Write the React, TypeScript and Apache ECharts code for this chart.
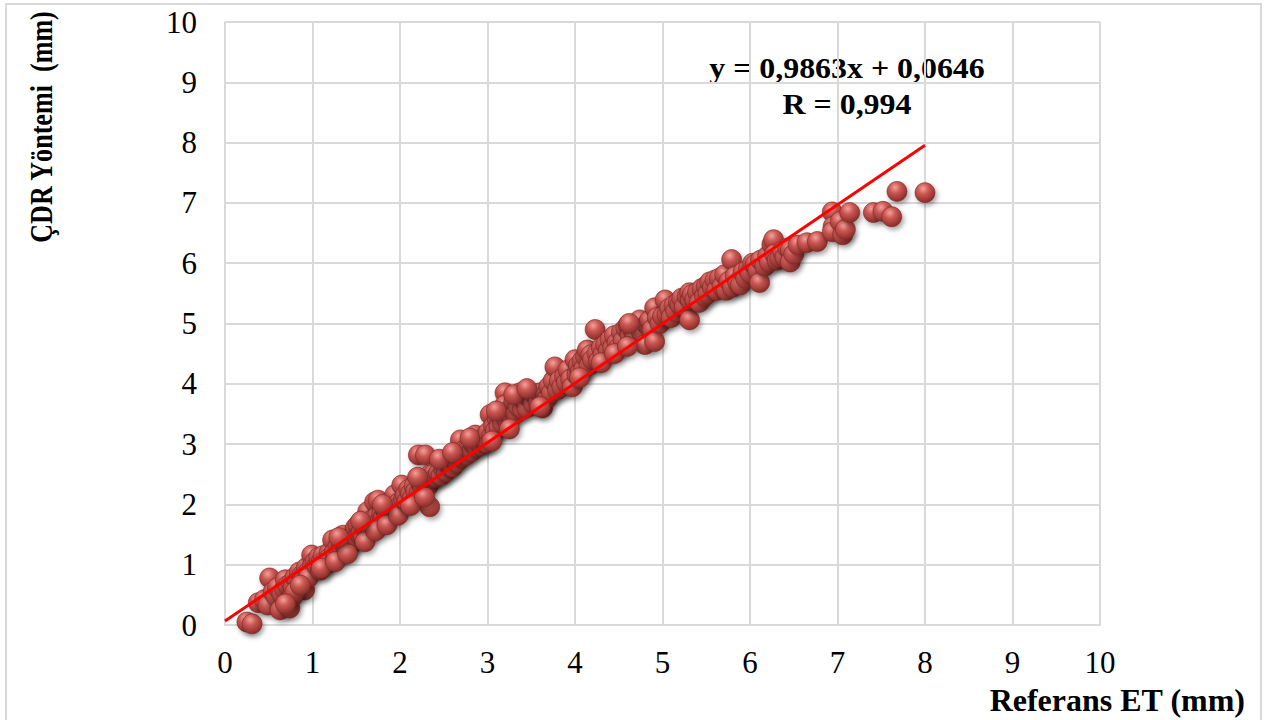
import React, { useEffect, useRef } from "react";
import * as echarts from "echarts";

const xTicks = [0, 1, 2, 3, 4, 5, 6, 7, 8, 9, 10];
const yTicks = [0, 1, 2, 3, 4, 5, 6, 7, 8, 9, 10];
const slope = 0.9863;
const intercept = 0.0646;
const trendX = [0, 8];
const equationText = "y = 0,9863x + 0,0646";
const rText = "R = 0,994";
const xTitle = "Referans ET (mm)";
const yTitle = "ÇDR Yöntemi  (mm)";

const points: number[][] = [
  [0.25, 0.05], [0.31, 0.02], [0.38, 0.37], [0.45, 0.42], [0.49, 0.33], [0.51, 0.78], [0.55, 0.55], [0.58, 0.48],
  [0.6, 0.62], [0.63, 0.25], [0.65, 0.52], [0.68, 0.6], [0.69, 0.75], [0.72, 0.66], [0.74, 0.28], [0.76, 0.7],
  [0.78, 0.62], [0.8, 0.79], [0.83, 0.74], [0.85, 0.88], [0.88, 0.83], [0.9, 0.82], [0.91, 0.58], [0.93, 0.95],
  [0.96, 0.9], [0.99, 1.16], [1.0, 0.98], [0.77, 0.46], [0.8, 0.55], [0.95, 0.78], [0.69, 0.35], [0.86, 0.66],
  [1.03, 1.05], [1.05, 0.98], [1.07, 1.12], [1.09, 0.91], [1.1, 1.05], [1.12, 1.15], [1.15, 1.08], [1.17, 1.02],
  [1.19, 1.2], [1.2, 1.12], [1.23, 1.41], [1.25, 1.2], [1.27, 1.15], [1.29, 1.3], [1.31, 1.22], [1.33, 1.28],
  [1.35, 1.49], [1.37, 1.33], [1.39, 1.25], [1.41, 1.38], [1.43, 1.45], [1.45, 1.35], [1.47, 1.5], [1.49, 1.61],
  [1.5, 1.42], [1.52, 1.66], [1.54, 1.5], [1.56, 1.55], [1.58, 1.48], [1.6, 1.62], [1.62, 1.58], [1.63, 1.88],
  [1.65, 1.66], [1.67, 1.6], [1.69, 1.75], [1.71, 2.04], [1.72, 1.7], [1.74, 1.8], [1.75, 2.07], [1.77, 1.72],
  [1.79, 1.85], [1.81, 1.78], [1.83, 1.92], [1.85, 1.82], [1.87, 1.98], [1.89, 1.86], [1.91, 2.05], [1.92, 1.9],
  [1.94, 2.16], [1.96, 1.95], [1.98, 2.02], [2.0, 1.98], [1.1, 0.94], [1.26, 1.05], [1.4, 1.18], [1.6, 1.38],
  [1.72, 1.56], [1.85, 1.66], [1.98, 1.82], [1.3, 1.45], [1.55, 1.72], [1.8, 2.0],
  [2.02, 2.32], [2.04, 2.08], [2.06, 2.15], [2.08, 2.05], [2.1, 2.25], [2.12, 2.18], [2.14, 2.1], [2.16, 2.3],
  [2.18, 2.22], [2.21, 2.82], [2.22, 2.2], [2.24, 2.35], [2.26, 2.28], [2.29, 2.82], [2.3, 2.4], [2.32, 2.3],
  [2.34, 1.96], [2.34, 2.49], [2.36, 2.42], [2.38, 2.5], [2.41, 2.45], [2.44, 2.52], [2.47, 2.48], [2.5, 2.58],
  [2.53, 2.55], [2.55, 2.68], [2.57, 2.66], [2.6, 2.62], [2.62, 2.75], [2.65, 2.7], [2.67, 2.85], [2.69, 3.07],
  [2.71, 2.78], [2.74, 2.9], [2.76, 2.82], [2.79, 2.95], [2.82, 2.88], [2.84, 3.0], [2.86, 3.15], [2.88, 2.95],
  [2.91, 3.05], [2.93, 2.98], [2.95, 3.1], [2.97, 3.07], [2.99, 3.02], [2.12, 1.98], [2.28, 2.12], [2.45, 2.75],
  [2.6, 2.86], [2.8, 3.1], [2.2, 2.45],
  [3.01, 3.2], [3.03, 3.49], [3.05, 3.15], [3.07, 3.3], [3.09, 3.22], [3.11, 3.42], [3.13, 3.28], [3.15, 3.55],
  [3.17, 3.35], [3.19, 3.62], [3.2, 3.85], [3.2, 3.65], [3.22, 3.4], [3.24, 3.55], [3.27, 3.45], [3.3, 3.7],
  [3.32, 3.5], [3.35, 3.62], [3.37, 3.85], [3.4, 3.58], [3.42, 3.72], [3.45, 3.6], [3.47, 3.78], [3.49, 3.85],
  [3.52, 3.68], [3.55, 3.8], [3.58, 3.7], [3.6, 3.85], [3.63, 3.6], [3.66, 3.82], [3.68, 3.75], [3.7, 3.95],
  [3.73, 3.85], [3.75, 4.05], [3.77, 4.28], [3.8, 3.9], [3.82, 4.05], [3.85, 3.95], [3.88, 4.12], [3.9, 4.02],
  [3.92, 4.23], [3.95, 4.08], [3.97, 3.95], [4.0, 4.4], [3.1, 3.55], [3.3, 3.82], [3.45, 3.92], [3.6, 3.62],
  [3.05, 3.05], [3.25, 3.25],
  [4.02, 4.15], [4.04, 4.3], [4.06, 4.2], [4.08, 4.38], [4.1, 4.25], [4.12, 4.45], [4.14, 4.56], [4.16, 4.3],
  [4.18, 4.48], [4.2, 4.4], [4.23, 4.9], [4.25, 4.5], [4.27, 4.38], [4.3, 4.6], [4.32, 4.48], [4.35, 4.65],
  [4.38, 4.55], [4.4, 4.73], [4.43, 4.6], [4.45, 4.8], [4.48, 4.68], [4.5, 4.6], [4.53, 4.85], [4.55, 4.72],
  [4.58, 4.92], [4.61, 4.98], [4.63, 4.8], [4.66, 4.9], [4.68, 4.75], [4.7, 5.0], [4.74, 5.06], [4.76, 4.85],
  [4.8, 4.65], [4.82, 4.98], [4.85, 5.05], [4.88, 4.9], [4.91, 5.26], [4.91, 4.7], [4.94, 5.1], [4.97, 5.0],
  [5.0, 5.12], [4.05, 4.1], [4.3, 4.35], [4.45, 4.5], [4.6, 4.62], [4.62, 5.0],
  [5.03, 5.39], [5.05, 5.15], [5.08, 5.25], [5.1, 5.1], [5.13, 5.3], [5.15, 5.2], [5.18, 5.35], [5.2, 5.31],
  [5.22, 5.42], [5.25, 5.28], [5.28, 5.45], [5.31, 5.06], [5.31, 5.51], [5.32, 5.38], [5.34, 5.48], [5.37, 5.4],
  [5.4, 5.52], [5.42, 5.35], [5.45, 5.58], [5.48, 5.45], [5.5, 5.62], [5.52, 5.5], [5.54, 5.69], [5.57, 5.6],
  [5.6, 5.72], [5.62, 5.55], [5.65, 5.75], [5.68, 5.62], [5.71, 5.81], [5.73, 5.55], [5.76, 5.7], [5.79, 6.06],
  [5.8, 5.6], [5.83, 5.78], [5.86, 5.68], [5.89, 5.64], [5.92, 5.85], [5.95, 5.75], [5.98, 5.9], [6.0, 5.84],
  [6.03, 6.0], [6.06, 5.98], [6.09, 5.88], [6.11, 5.68], [6.12, 6.05], [6.17, 5.95], [6.2, 6.12], [6.22, 6.02],
  [6.25, 6.31], [6.27, 6.39], [6.28, 6.15], [6.31, 6.05], [6.34, 6.09], [6.37, 6.2], [6.4, 6.1], [6.43, 6.25],
  [6.46, 6.22], [6.46, 6.02], [6.5, 6.15], [6.55, 6.3], [6.65, 6.34], [6.77, 6.36], [6.94, 6.85], [6.95, 6.61],
  [6.94, 6.52], [7.03, 6.69], [7.06, 6.47], [7.09, 6.56], [7.14, 6.84], [7.41, 6.84], [7.52, 6.86], [7.62, 6.77],
  [7.68, 7.19], [8.0, 7.17],
];

const trendLine = trendX.map((x) => [x, slope * x + intercept]);

export default function App() {
  const ref = useRef<HTMLDivElement>(null);
  useEffect(() => {
    document.body.style.margin = "0";
    if (!ref.current) return;
    const chart = echarts.init(ref.current, undefined, { renderer: "svg" });
    const serif = "Liberation Serif";
    const gridColor = "#d9d9d9";
    chart.setOption({
      animation: false,
      backgroundColor: "#ffffff",
      grid: { left: 225, right: 172, top: 22, bottom: 95, containLabel: false },
      xAxis: {
        type: "value",
        min: xTicks[0],
        max: xTicks[xTicks.length - 1],
        interval: 1,
        axisLine: { show: true, lineStyle: { color: gridColor, width: 2 } },
        axisTick: { show: false },
        splitLine: { show: true, lineStyle: { color: gridColor, width: 2 } },
        axisLabel: { fontFamily: serif, fontSize: 31, color: "#000", margin: 22 },
      },
      yAxis: {
        type: "value",
        min: yTicks[0],
        max: yTicks[yTicks.length - 1],
        interval: 1,
        axisLine: { show: true, lineStyle: { color: gridColor, width: 2 } },
        axisTick: { show: false },
        splitLine: { show: true, lineStyle: { color: gridColor, width: 2 } },
        axisLabel: { fontFamily: serif, fontSize: 31, color: "#000", margin: 28 },
      },
      graphic: [
        {
          type: "rect",
          shape: { x: 6, y: 4, width: 1255, height: 730 },
          style: { fill: "none", stroke: gridColor, lineWidth: 2 },
          silent: true,
        },
        {
          type: "text",
          x: 41,
          y: 127,
          rotation: Math.PI / 2,
          scaleX: 0.87,
          scaleY: 1.08,
          style: {
            text: yTitle,
            fontFamily: serif,
            fontWeight: "bold",
            fontSize: 30,
            fill: "#000",
            align: "center",
            verticalAlign: "middle",
          },
        },
        {
          type: "text",
          x: 1245,
          y: 700,
          style: {
            text: xTitle,
            fontFamily: serif,
            fontWeight: "bold",
            fontSize: 32,
            fill: "#000",
            align: "right",
            verticalAlign: "middle",
          },
        },
        {
          type: "text",
          x: 847,
          y: 68,
          scaleX: 1.1,
          style: {
            text: equationText,
            fontFamily: serif,
            fontWeight: "bold",
            fontSize: 29,
            fill: "#000",
            align: "center",
            verticalAlign: "middle",
          },
        },
        {
          type: "text",
          x: 847,
          y: 104,
          scaleX: 1.1,
          style: {
            text: rText,
            fontFamily: serif,
            fontWeight: "bold",
            fontSize: 29,
            fill: "#000",
            align: "center",
            verticalAlign: "middle",
          },
        },
      ],
      series: [
        {
          type: "scatter",
          data: points,
          symbol: "circle",
          symbolSize: 20,
          itemStyle: {
            color: {
              type: "radial",
              x: 0.4,
              y: 0.3,
              r: 0.72,
              colorStops: [
                { offset: 0, color: "#f3a19d" },
                { offset: 0.4, color: "#cb5752" },
                { offset: 1, color: "#862a27" },
              ],
            },
            borderColor: "#7a2624",
            borderWidth: 0.6,
            shadowBlur: 5,
            shadowColor: "rgba(0,0,0,0.35)",
            shadowOffsetX: 2,
            shadowOffsetY: 3,
            opacity: 1,
          },
          z: 2,
        },
        {
          type: "line",
          data: trendLine,
          symbol: "none",
          lineStyle: { color: "#ff0000", width: 3 },
          z: 3,
        },
      ],
    });
    return () => chart.dispose();
  }, []);
  return <div ref={ref} style={{ width: 1272, height: 720 }} />;
}
